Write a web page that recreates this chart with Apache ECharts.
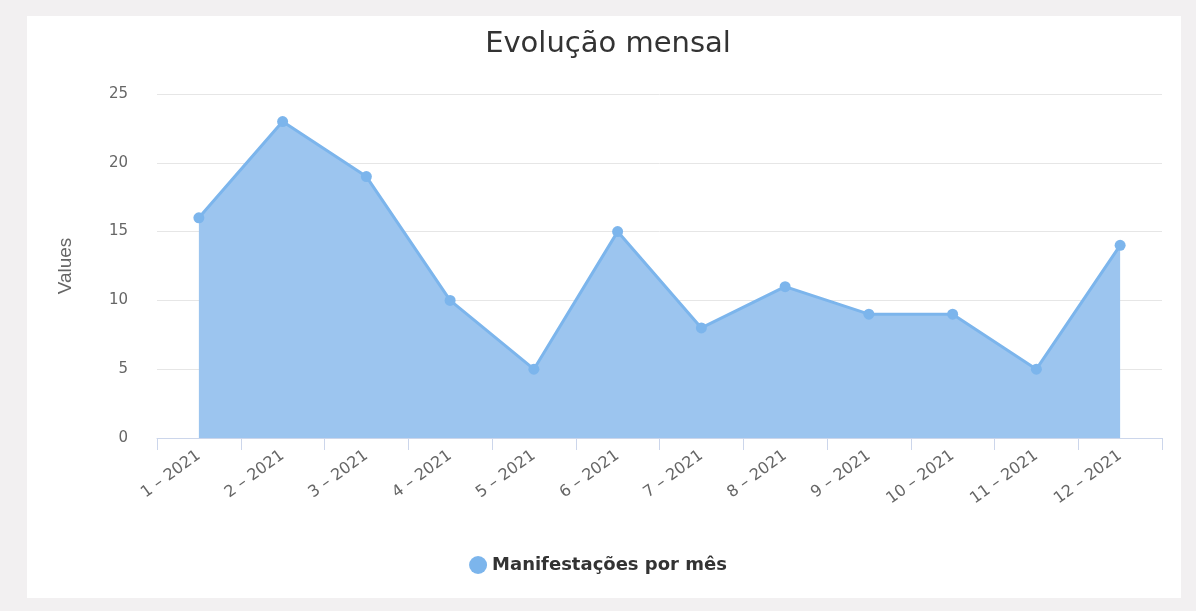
<!DOCTYPE html>
<html>
<head>
<meta charset="utf-8">
<script src="https://cdn.jsdelivr.net/npm/echarts@6/dist/echarts.min.js"></script>
<style>
    html, body { margin: 0; padding: 0; background: #f2f0f1; }
    #painel { position: absolute; left: 27px; top: 16px; width: 1154px; height: 582px; background: #ffffff; }
    #grafico { position: absolute; left: 0; top: 0; width: 1196px; height: 611px; }
</style>
</head>
<body>
<div id="painel"></div>
<div id="grafico"></div>
<script>
// Dados do gráfico
const meses = ['1 – 2021', '2 – 2021', '3 – 2021', '4 – 2021', '5 – 2021', '6 – 2021',
    '7 – 2021', '8 – 2021', '9 – 2021', '10 – 2021', '11 – 2021', '12 – 2021'];
const manifestacoes = [16, 23, 19, 10, 5, 15, 8, 11, 9, 9, 5, 14];
const nomeSerie = 'Manifestações por mês';

document.addEventListener('DOMContentLoaded', function () {
    var chartDom = document.getElementById('grafico');
    var myChart = echarts.init(chartDom);

    var option = {
        animation: false,
        title: {
            text: 'Evolução mensal',
            left: 603,
            textAlign: 'center',
            top: 25,
            textStyle: {
                fontFamily: 'DejaVu Sans',
                fontSize: 29,
                fontWeight: 'normal',
                color: '#333333'
            }
        },
        legend: {
            top: 551,
            left: 'center',
            icon: 'circle',
            itemWidth: 18,
            itemHeight: 18,
            itemGap: 10,
            textStyle: {
                fontFamily: 'DejaVu Sans',
                fontSize: 18,
                fontWeight: 'bold',
                color: '#333333'
            },
            data: [nomeSerie]
        },
        grid: {
            left: 157,
            right: 34,
            top: 94,
            bottom: 173
        },
        xAxis: {
            type: 'category',
            boundaryGap: true,
            data: meses,
            axisLine: { lineStyle: { color: '#ccd6eb', width: 1 } },
            axisTick: { show: true, length: 12, lineStyle: { color: '#ccd6eb' } },
            axisLabel: {
                rotate: 36,
                interval: 0,
                margin: 16,
                fontFamily: 'DejaVu Sans',
                fontSize: 16,
                color: '#666666'
            }
        },
        yAxis: {
            type: 'value',
            min: 0,
            max: 25,
            interval: 5,
            name: 'Values',
            nameLocation: 'middle',
            nameGap: 82,
            nameTextStyle: {
                fontFamily: 'Liberation Sans',
                fontSize: 19,
                color: '#666666'
            },
            axisLine: { show: false },
            axisTick: { show: false },
            axisLabel: {
                margin: 29,
                fontFamily: 'DejaVu Sans',
                fontSize: 15,
                color: '#666666'
            },
            splitLine: { lineStyle: { color: '#e6e6e6', width: 1 } }
        },
        series: [
            {
                name: nomeSerie,
                type: 'line',
                data: manifestacoes,
                symbol: 'circle',
                symbolSize: 11,
                itemStyle: { color: '#7cb5ec' },
                lineStyle: { color: '#7cb5ec', width: 3 },
                areaStyle: { color: '#9cc5ef', opacity: 1 }
            }
        ]
    };

    myChart.setOption(option);

    window.addEventListener('resize', function () {
        myChart.resize();
    });
});
</script>
</body>
</html>
